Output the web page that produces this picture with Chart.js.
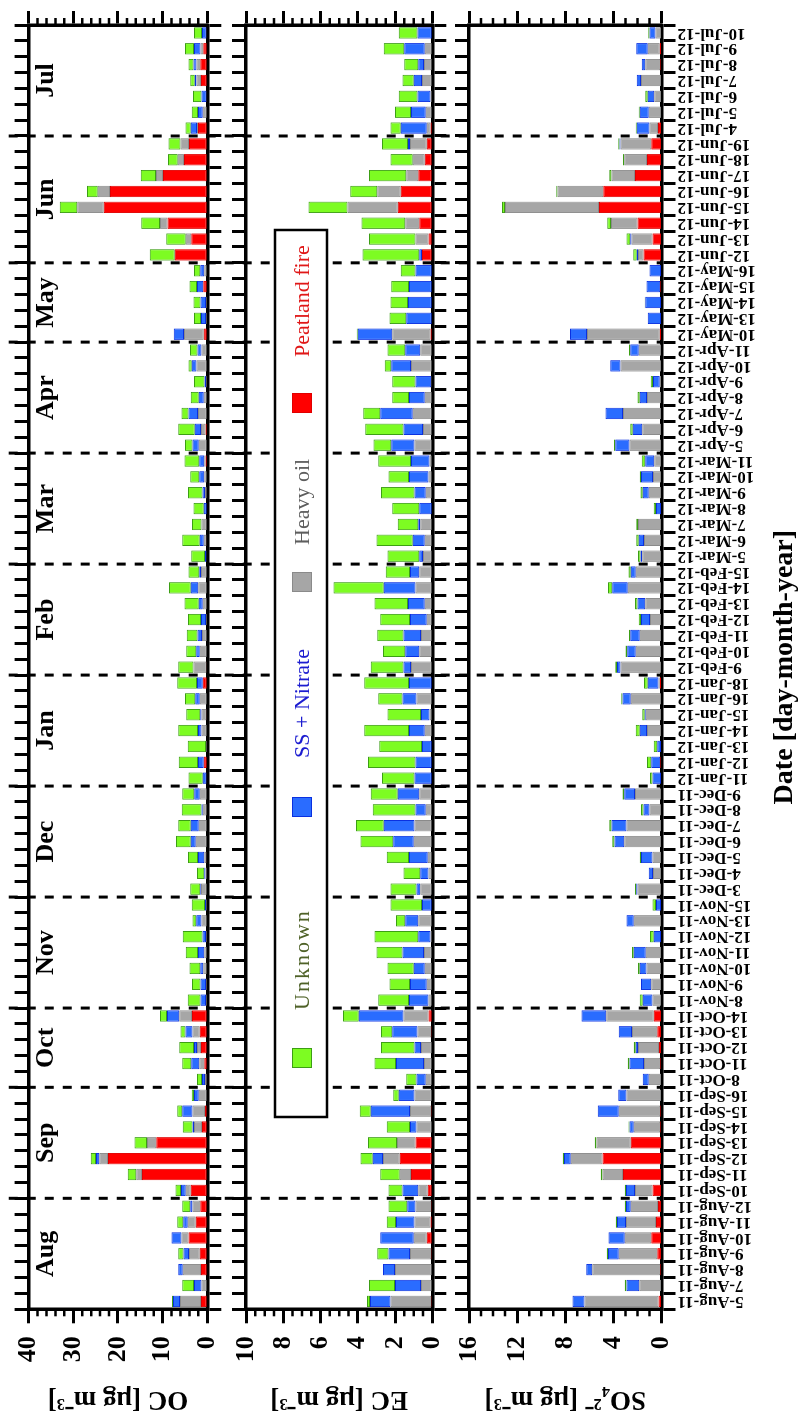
<!DOCTYPE html>
<html>
<head>
<meta charset="utf-8">
<script src="https://cdn.jsdelivr.net/npm/chart.js@4.4.1/dist/chart.umd.min.js"></script>
<style>
  html, body { margin: 0; padding: 0; background: #fff; }
  body { width: 802px; height: 1417px; overflow: hidden; position: relative; }
  /* the figure is laid out landscape and turned a quarter turn counter-clockwise */
  #figure { position: absolute; left: 0; top: 0; width: 1417px; height: 802px;
            transform-origin: 0 0; transform: translate(0, 1417px) rotate(-90deg); }
  #figure canvas { position: absolute; left: 0; top: 0; }
</style>
</head>
<body>
<div id="figure">
  <canvas id="oc" width="1417" height="802"></canvas>
  <canvas id="ec" width="1417" height="802"></canvas>
  <canvas id="so4" width="1417" height="802"></canvas>
</div>
<script>
const SERIF = "'Liberation Serif','Times New Roman',serif";

const dates = [
  '5-Aug-11','7-Aug-11','8-Aug-11','9-Aug-11','10-Aug-11','11-Aug-11','12-Aug-11',
  '10-Sep-11','11-Sep-11','12-Sep-11','13-Sep-11','14-Sep-11','15-Sep-11','16-Sep-11',
  '8-Oct-11','11-Oct-11','12-Oct-11','13-Oct-11','14-Oct-11',
  '8-Nov-11','9-Nov-11','10-Nov-11','11-Nov-11','12-Nov-11','13-Nov-11','15-Nov-11',
  '3-Dec-11','4-Dec-11','5-Dec-11','6-Dec-11','7-Dec-11','8-Dec-11','9-Dec-11',
  '11-Jan-12','12-Jan-12','13-Jan-12','14-Jan-12','15-Jan-12','16-Jan-12','18-Jan-12',
  '9-Feb-12','10-Feb-12','11-Feb-12','12-Feb-12','13-Feb-12','14-Feb-12','15-Feb-12',
  '5-Mar-12','6-Mar-12','7-Mar-12','8-Mar-12','9-Mar-12','10-Mar-12','11-Mar-12',
  '5-Apr-12','6-Apr-12','7-Apr-12','8-Apr-12','9-Apr-12','10-Apr-12','11-Apr-12',
  '10-May-12','13-May-12','14-May-12','15-May-12','16-May-12',
  '12-Jun-12','13-Jun-12','14-Jun-12','15-Jun-12','16-Jun-12','17-Jun-12','18-Jun-12','19-Jun-12',
  '4-Jul-12','5-Jul-12','6-Jul-12','7-Jul-12','8-Jul-12','9-Jul-12','10-Jul-12'
];

const sourceNames = ['Peatland fire', 'Heavy oil', 'SS + Nitrate', 'Unknown'];

// OC [ug m-3] by source
const ocFire = [1.4,0,1.4,1.7,4.2,2.6,1.6, 3.7,14.6,22.2,11.4,1.2,0.5,0, 0,0.7,1.4,1.7,3.4, 0,0,0,0,0,0,0, 0,0,0.2,0,0,0,0, 0,0.8,0,0,0.2,0,1.0, 0.2,0,0,0,0,0,0, 0,0.2,0,0,0,0,0.4, 0,0.4,0,0,0,0,0, 0.8,0,0,0.9,0, 7.3,3.6,8.9,23.2,21.8,9.9,5.2,4.1, 2.1,0,0,1.4,1.6,0.9,0];
const ocOil  = [4.7,1.3,4.1,2.4,1.6,1.8,1.7, 1.1,1.3,2.0,2.1,1.8,2.8,1.9, 0.5,1.1,0.9,1.6,2.9, 0.3,0.3,0.9,0.7,0.3,1.3,0.3, 1.4,0.4,0.5,2.6,1.9,1.0,1.7, 0.2,0,0.3,1.3,1.1,1.7,0, 2.9,1.7,1.2,0.3,1.0,2.0,1.4, 0.2,0.6,1.3,0,0.5,0.7,0.3, 1.9,1.0,2.1,0.8,0.3,2.4,1.3, 4.4,0.3,0.3,0,0.7, 0,1.2,1.7,5.9,2.7,1.6,1.4,1.9, 0.2,1.0,0.2,1.0,0.8,0.6,0.2];
const ocSsn  = [1.6,1.7,1.0,1.2,2.2,1.0,0.5, 1.1,0,0.7,0,0.3,2.3,1.1, 0.7,1.8,0.7,1.6,2.7, 1.2,1.2,0.7,1.4,0.8,1.2,0.2, 0.2,0.3,1.4,1.1,1.8,0.3,1.2, 0.8,1.3,0,0.8,0.3,1.0,1.3, 0,0.8,1.0,1.1,0.9,1.7,0.4, 0.3,0.9,0,0.8,0.6,1.1,1.1, 1.4,1.4,2.1,1.1,0.3,1.1,0.9, 2.3,1.1,1.2,1.4,0.9, 0,0,0,0,0,0,0,0, 1.4,1.1,1.1,0.4,0.7,1.5,1.0];
const ocUnk  = [0.2,2.6,0,1.2,0,1.3,1.8, 1.2,1.9,1.2,2.8,2.2,1.1,0.5, 1.1,2.0,3.3,1.1,1.6, 2.9,1.9,2.4,2.7,4.4,0.8,3.0, 2.2,1.6,2.2,3.3,2.8,4.4,2.7, 3.2,4.3,4.1,4.4,3.1,2.3,4.4, 3.4,2.2,2.4,2.9,3.2,4.9,2.4, 3.1,3.9,2.1,2.3,3.2,2.0,3.3, 1.7,3.7,1.6,1.8,2.4,0.7,1.7, 0,1.6,1.6,1.7,1.4, 5.6,4.4,4.2,3.9,2.4,3.4,2.2,2.7, 1.2,1.4,1.9,1.0,1.1,2.0,1.8];

// EC [ug m-3] by source
const ecFire = [0.05,0,0,0.05,0.3,0.1,0.05, 0.25,1.15,1.75,0.9,0,0.05,0, 0,0,0,0.05,0.2, 0,0,0,0,0,0,0, 0,0,0,0,0,0,0, 0,0,0,0,0,0,0, 0,0,0,0,0,0,0, 0,0,0,0,0,0,0, 0,0,0,0,0,0,0, 0.1,0,0,0,0, 0.55,0.2,0.7,1.85,1.7,0.75,0.4,0.3, 0.1,0,0,0,0,0,0];
const ecOil  = [2.2,0.6,2.0,1.15,0.7,0.85,0.85, 0.5,0.6,0.9,1.0,0.85,1.15,0.95, 0.35,0.45,0.6,0.75,1.35, 0.2,0.3,0.4,0.45,0.1,0.75,0, 0.65,0.2,0.25,1.0,0.95,0.35,0.7, 0,0,0,0.4,0.15,0.85,0, 1.15,0.7,0.6,0.3,0.4,0.9,0.7, 0.5,0.4,0.65,0,0.35,0.2,0.15, 0.95,0.5,1.05,0.4,0.05,1.15,0.65, 2.05,0,0,0,0, 0,0.7,0.75,2.7,1.25,0.65,0.65,0.9, 0.2,0.35,0.1,0.55,0.45,0.4,0];
const ecSsn  = [1.1,1.4,0.65,1.15,1.8,1.0,0.45, 0.85,0,0.55,0,0.35,2.1,0.85, 0.5,1.5,0.35,1.35,2.4, 1.05,0.9,0.6,1.15,0.65,0.7,0.55, 0.2,0.45,1.0,1.1,1.65,0.55,1.15, 0.95,0.9,0.55,0.85,0.45,0.75,1.25, 0.4,0.75,0.95,0.9,0.9,1.7,0.5, 0.2,0.65,0.1,0.7,0.6,1.05,1.0, 1.25,1.05,1.75,0.85,0.85,1.05,0.8, 1.85,1.4,1.3,1.25,0.9, 0.15,0,0,0,0,0,0,0.1, 1.4,0.8,0.7,0.45,0.3,1.1,0.8];
const ecUnk  = [0.15,1.4,0,0.6,0,0.5,1.0, 0.75,1.05,0.65,1.55,1.25,0.6,0.3, 0.55,1.15,1.8,0.6,0.85, 1.65,1.1,1.4,1.4,2.35,0.5,1.7, 1.4,0.9,1.2,1.75,1.5,2.3,1.45, 1.75,2.55,2.3,2.4,1.8,1.3,2.4, 1.75,1.2,1.4,1.6,1.8,2.7,1.3, 1.7,1.95,1.1,1.45,1.8,1.1,1.75, 0.95,2.05,0.9,0.9,1.25,0.35,0.95, 0.05,0.9,0.95,0.95,0.8, 3.05,2.5,2.35,2.1,1.45,2.0,1.2,1.4, 0.55,0.85,1.0,0.6,0.75,1.1,1.0];

// SO4(2-) [ug m-3] by source
const so4Fire = [0.25,0,0.1,0.35,0.85,0.45,0.3, 0.75,3.2,4.9,2.55,0.1,0.1,0, 0,0.1,0.2,0.35,0.65, 0,0,0,0,0,0,0, 0,0,0,0,0,0,0, 0,0.1,0,0,0,0,0.15, 0,0,0,0,0,0,0, 0,0,0,0,0,0,0, 0,0,0,0,0,0,0, 0.15,0,0,0.1,0.05, 1.5,0.75,2.0,5.2,4.85,2.2,1.2,0.85, 0.3,0,0,0,0.1,0.15,0];
const so4Oil  = [6.15,1.85,5.65,3.2,2.2,2.5,2.25, 1.45,1.7,2.65,2.85,2.2,3.45,2.9, 1.05,1.35,1.75,2.1,3.95, 0.75,0.85,1.25,1.3,0,2.3,0, 2.0,0.7,0.75,3.1,2.9,1.0,2.2, 0,0,0,1.2,1.3,2.55,0.1, 3.4,2.15,1.8,0.95,1.35,2.8,2.15, 1.6,1.45,1.95,0,1.05,0.7,0.6, 2.65,1.6,3.2,1.2,0.15,3.4,1.9, 6.05,0,0,0,0, 0.45,1.75,2.2,7.8,3.8,1.95,1.9,2.55, 0.7,1.05,0.6,1.7,1.25,1.0,0.5];
const so4Ssn  = [1.0,1.05,0.5,0.9,1.35,0.75,0.4, 0.75,0,0.55,0,0.35,1.75,0.7, 0.5,1.2,0.2,1.1,2.05, 0.8,0.85,0.55,1.0,0.65,0.6,0.45, 0.1,0.35,0.95,0.8,1.25,0.5,0.9, 0.75,0.75,0.35,0.6,0.1,0.7,0.9, 0.3,0.7,0.8,0.75,0.65,1.3,0.4, 0.15,0.45,0,0.45,0.5,1.0,0.75, 1.2,0.8,1.45,0.6,0.55,0.85,0.7, 1.4,1.15,1.35,1.15,0.95, 0.1,0.1,0,0,0,0,0,0.1, 1.05,0.75,0.55,0.35,0.3,0.95,0.5];
const so4Unk  = [0,0.15,0,0.1,0,0.1,0.1, 0.1,0.15,0.1,0.15,0.1,0,0, 0,0.15,0.15,0,0, 0.25,0,0.15,0.15,0.3,0,0.3, 0.1,0,0.1,0.2,0.2,0.2,0.15, 0.2,0.35,0.3,0.35,0.2,0.1,0.3, 0.15,0.15,0.1,0.2,0.2,0.35,0.2, 0.2,0.2,0.15,0.2,0.2,0.1,0.3, 0.1,0.2,0,0.2,0.2,0,0.1, 0,0,0.05,0,0, 0.3,0.3,0.3,0.25,0.1,0.2,0.1,0.1, 0.1,0.1,0.2,0,0,0,0.1];

// value axis ranges: max, labelled step, minor step
const ocAxis  = [40, 10, 2];
const ecAxis  = [10, 2, 0.5];
const so4Axis = [16, 4, 1];

const FILL = ['#ff0000', '#a6a6a6', '#2a6cff', '#7dfc22'];
const EDGE = ['#e00000', '#8a8a8a', '#0a30e0', '#3c9e14'];
const LEGEND_INK = ['#e01818', '#5e5e5e', '#1c1cd0', '#4f6228'];

// panel frames in figure pixels (landscape layout)
const FRAME_LEFT = 107.7, FRAME_RIGHT = 1392;
const PANELS = {
  oc:  { top: 22.7, bottom: 207.3 },
  ec:  { top: 246,  bottom: 432.3 },
  so4: { top: 469,  bottom: 661.5 }
};
const FIG_W = 1417, FIG_H = 802;

const monthOf = d => d.split('-')[1];
function monthGroups() {
  const groups = [];
  dates.forEach((d, i) => {
    const m = monthOf(d);
    const last = groups[groups.length - 1];
    if (!last || last.name !== m) groups.push({ name: m, first: i, last: i });
    else last.last = i;
  });
  return groups;
}

// short ticks between the labelled ones, on both value-axis sides
const minorTicks = {
  id: 'minorTicks',
  afterDraw(chart, args, o) {
    const y = chart.scales.y, a = chart.chartArea, ctx = chart.ctx;
    const n = Math.round((y.max - y.min) / o.step);
    const every = Math.round(o.major / o.step);
    ctx.save();
    ctx.strokeStyle = '#000';
    ctx.lineWidth = 2.5;
    for (let k = 1; k < n; k++) {
      if (k % every === 0) continue;
      const p = y.getPixelForValue(y.min + k * o.step);
      ctx.beginPath();
      ctx.moveTo(a.left - o.length, p); ctx.lineTo(a.left, p);
      ctx.moveTo(a.right, p); ctx.lineTo(a.right + o.length, p);
      ctx.stroke();
    }
    ctx.restore();
  }
};

// month names and dashed month separators running through all three panels
const monthMarks = {
  id: 'monthMarks',
  afterDraw(chart, args, o) {
    const x = chart.scales.x, ctx = chart.ctx;
    const groups = monthGroups();
    ctx.save();
    ctx.font = `bold 26px ${SERIF}`;
    ctx.textAlign = 'center';
    ctx.textBaseline = 'middle';
    ctx.fillStyle = '#000';
    groups.forEach(g => {
      const cx = (x.getPixelForValue(g.first) + x.getPixelForValue(g.last)) / 2;
      ctx.fillText(g.name, cx, o.labelY);
    });
    ctx.setLineDash([9, 9]);
    ctx.lineWidth = 3;
    ctx.strokeStyle = '#000';
    groups.slice(1).forEach(g => {
      const px = (x.getPixelForValue(g.first - 1) + x.getPixelForValue(g.first)) / 2;
      ctx.beginPath();
      ctx.moveTo(px, o.from);
      ctx.lineTo(px, o.to);
      ctx.stroke();
    });
    ctx.restore();
  }
};

// framed one-row legend inside the EC panel
const boxLegend = {
  id: 'boxLegend',
  afterDraw(chart, args, o) {
    const ctx = chart.ctx;
    ctx.save();
    ctx.fillStyle = '#fff';
    ctx.fillRect(o.left, o.top, o.right - o.left, o.bottom - o.top);
    ctx.lineWidth = 2.5;
    ctx.strokeStyle = '#000';
    ctx.strokeRect(o.left, o.top, o.right - o.left, o.bottom - o.top);
    o.items.forEach(it => {
      const ds = chart.data.datasets[it.index];
      ctx.fillStyle = ds.backgroundColor;
      ctx.fillRect(it.box, o.boxTop, 20, 20);
      ctx.lineWidth = 1;
      ctx.strokeStyle = ds.borderColor;
      ctx.strokeRect(it.box + 0.5, o.boxTop + 0.5, 19, 19);
      ctx.font = `22px ${SERIF}`;
      ctx.fillStyle = LEGEND_INK[it.index];
      ctx.textAlign = 'left';
      ctx.textBaseline = 'middle';
      ctx.letterSpacing = (it.spacing || 0) + 'px';
      ctx.fillText(ds.label, it.text, o.textY);
      ctx.letterSpacing = '0px';
    });
    ctx.restore();
  }
};

function tickGrid() {
  return { drawOnChartArea: false, drawTicks: true, tickLength: 14, tickWidth: 3, tickColor: '#000' };
}
const frameBorder = () => ({ display: true, color: '#000', width: 3.5 });

function makePanel(id, series, axis, title, opts) {
  const frame = PANELS[id];
  const withDates = !!opts.dates;
  const xHeight = withDates ? FIG_H - frame.bottom : 20;
  const padBottom = FIG_H - frame.bottom - xHeight;
  const pluginOpts = Object.assign({
    legend: { display: false },
    tooltip: { enabled: false },
    minorTicks: { step: axis[2], major: axis[1], length: 7 }
  }, opts.pluginOptions || {});

  return new Chart(document.getElementById(id), {
    type: 'bar',
    data: {
      labels: dates,
      datasets: series.map((vals, k) => ({
        label: sourceNames[k],
        data: vals,
        backgroundColor: FILL[k],
        borderColor: EDGE[k],
        borderWidth: 1,
        borderSkipped: false,
        barPercentage: 0.72,
        categoryPercentage: 1
      }))
    },
    options: {
      responsive: false,
      animation: false,
      devicePixelRatio: 1,
      layout: { padding: { left: 0, right: 0, top: frame.top - 20, bottom: padBottom } },
      plugins: pluginOpts,
      scales: {
        x: {
          type: 'category', position: 'bottom', stacked: true, offset: true,
          grid: Object.assign(tickGrid(), { offset: true }),
          border: frameBorder(),
          ticks: { display: withDates, autoSkip: false, minRotation: 90, maxRotation: 90, padding: 2,
                   color: '#000', font: { family: SERIF, size: 17, weight: 'bold' } },
          title: { display: withDates, text: 'Date [day-month-year]', color: '#000',
                   font: { family: SERIF, size: 28, weight: 'bold' }, padding: { top: 0, bottom: 0 } },
          afterFit: s => { s.height = xHeight; }
        },
        xTop: {
          type: 'category', position: 'top', offset: true,
          grid: Object.assign(tickGrid(), { offset: true }),
          border: frameBorder(),
          ticks: { display: false },
          afterFit: s => { s.height = 20; }
        },
        y: {
          position: 'left', stacked: true, min: 0, max: axis[0],
          ticks: { stepSize: axis[1], padding: 13, color: '#000', font: { family: SERIF, size: 26, weight: 'bold' } },
          grid: tickGrid(),
          border: frameBorder(),
          title: { display: true, text: title, color: '#000',
                   font: { family: SERIF, size: 27, weight: 'bold' }, padding: { top: 2, bottom: 0 } },
          afterFit: s => { s.width = FRAME_LEFT; }
        },
        yRight: {
          position: 'right', min: 0, max: axis[0],
          ticks: { display: false, stepSize: axis[1] },
          grid: tickGrid(),
          border: frameBorder(),
          afterFit: s => { s.width = FIG_W - FRAME_RIGHT; }
        }
      }
    },
    plugins: [minorTicks].concat(opts.extra || [])
  });
}

makePanel('oc', [ocFire, ocOil, ocSsn, ocUnk], ocAxis, 'OC [µg m⁻³]', {
  extra: [monthMarks],
  pluginOptions: { monthMarks: { labelY: 46, from: PANELS.oc.top - 14, to: PANELS.so4.bottom } }
});

makePanel('ec', [ecFire, ecOil, ecSsn, ecUnk], ecAxis, 'EC [µg m⁻³]', {
  extra: [boxLegend],
  pluginOptions: {
    boxLegend: {
      left: 300, right: 1187, top: 275, bottom: 327, boxTop: 292, textY: 303,
      items: [
        { index: 3, box: 349,  text: 407, spacing: 2 },
        { index: 2, box: 600,  text: 659 },
        { index: 1, box: 825,  text: 872 },
        { index: 0, box: 1004, text: 1060 }
      ]
    }
  }
});

makePanel('so4', [so4Fire, so4Oil, so4Ssn, so4Unk], so4Axis, 'SO₄²⁻ [µg m⁻³]', { dates: true });
</script>
</body>
</html>
